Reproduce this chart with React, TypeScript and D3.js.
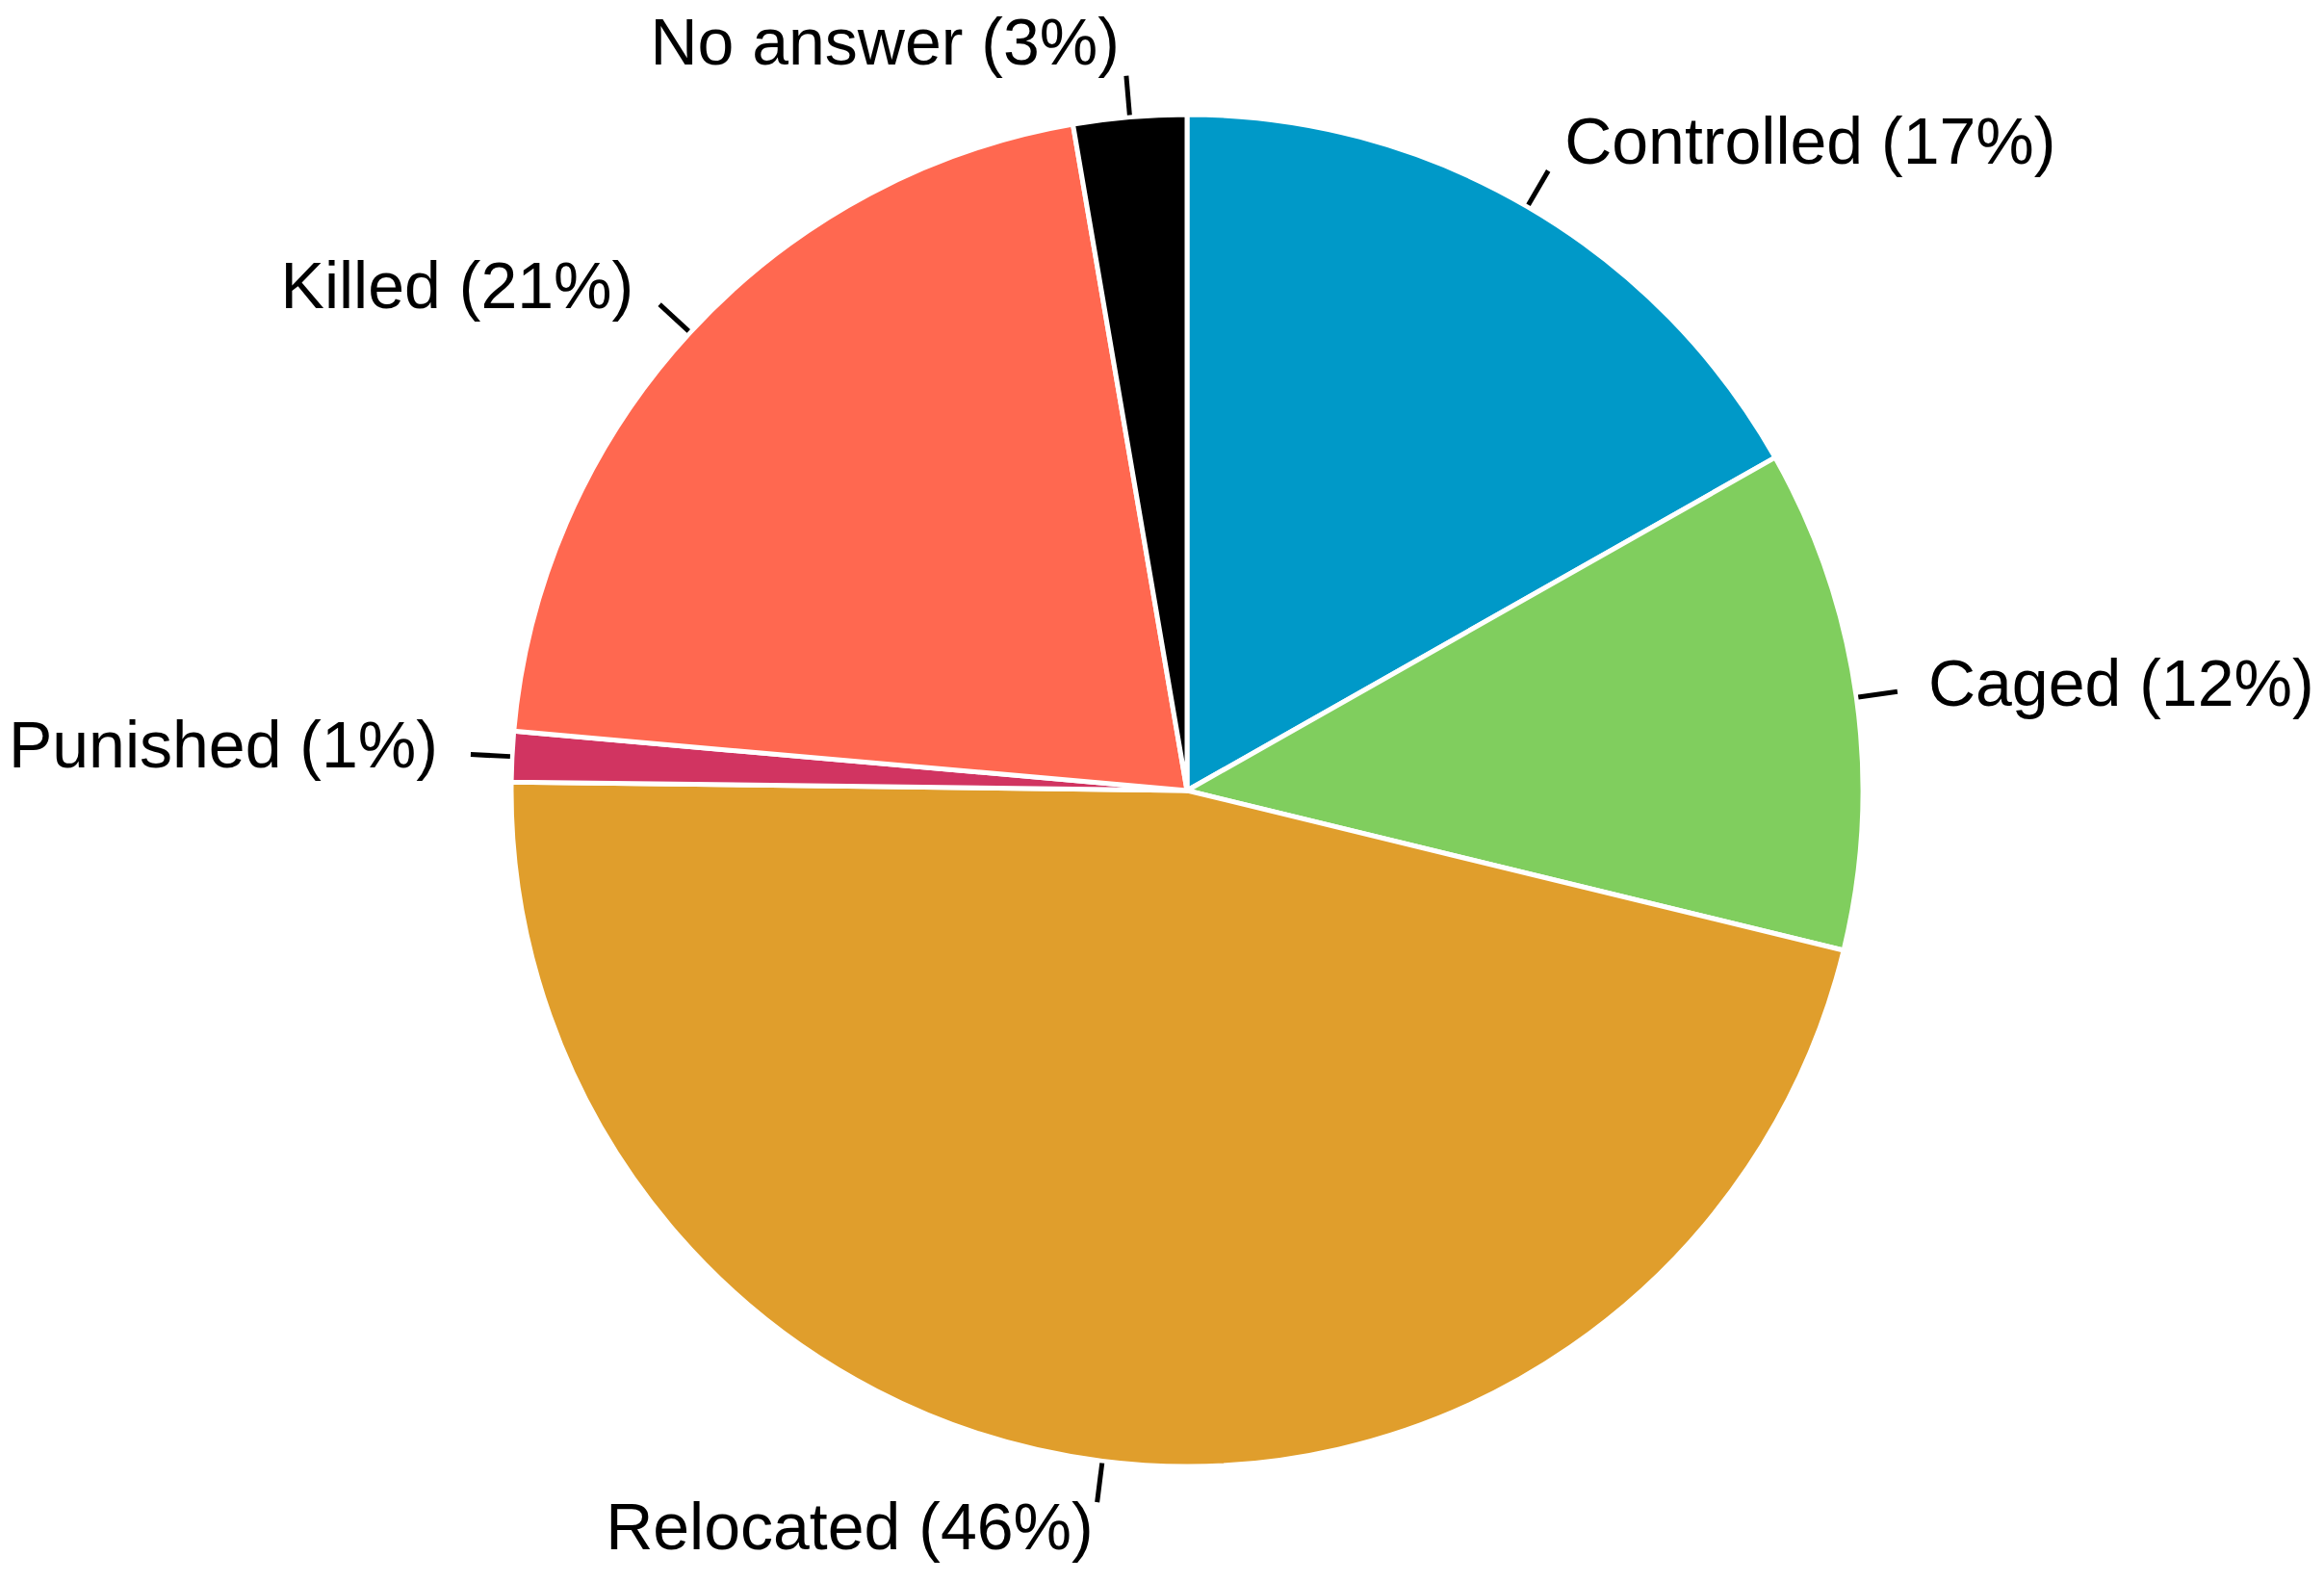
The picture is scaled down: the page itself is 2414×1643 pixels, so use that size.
import React from "react";
import * as d3 from "d3";

const categories = ["Controlled", "Caged", "Relocated", "Punished", "Killed", "No answer"];
const shares = [16.8, 12.0, 46.4, 1.2, 20.9, 2.7];
const labelPercents = ["17%", "12%", "46%", "1%", "21%", "3%"];
const colors = ["#0099C8", "#80CE5E", "#E09E2C", "#D13461", "#FF6850", "#000000"];

// label layout: offset from leader end, and anchor
const labelOffsets: [number, number, string][] = [
  [17, -7, "start"],
  [32, 15, "start"],
  [-4, 49, "end"],
  [-34, 13, "end"],
  [-27, 4, "end"],
  [-7, -12, "end"],
];

const W = 2414;
const H = 1643;
const CX = 1233;
const CY = 821;
const R = 702;

export default function App() {
  const pie = d3.pie<number>().sort(null).value((d) => d);
  const arcs = pie(shares);
  const arc = d3.arc<d3.PieArcDatum<number>>().innerRadius(0).outerRadius(R);
  const polar = (r: number, a: number) => [r * Math.sin(a), -r * Math.cos(a)];

  return (
    <svg
      width={W}
      height={H}
      style={{ position: "absolute", left: 0, top: 0, background: "#fff" }}
      fontFamily="'Liberation Sans', Arial, sans-serif"
    >
      <g transform={`translate(${CX},${CY})`}>
        {arcs.map((a, i) => (
          <path key={i} d={arc(a) || ""} fill={colors[i]} stroke="#fff" strokeWidth={5} strokeLinejoin="round" />
        ))}
        {arcs.map((a, i) => {
          const mid = (a.startAngle + a.endAngle) / 2;
          const [x1, y1] = polar(R + 2, mid);
          const [x2, y2] = polar(R + 43, mid);
          const [dx, dy, anchor] = labelOffsets[i];
          return (
            <g key={"l" + i}>
              <line x1={x1} y1={y1} x2={x2} y2={y2} stroke="#000" strokeWidth={5} />
              <text x={x2 + dx} y={y2 + dy} textAnchor={anchor} fontSize={68} fill="#000">
                {`${categories[i]} (${labelPercents[i]})`}
              </text>
            </g>
          );
        })}
      </g>
    </svg>
  );
}
